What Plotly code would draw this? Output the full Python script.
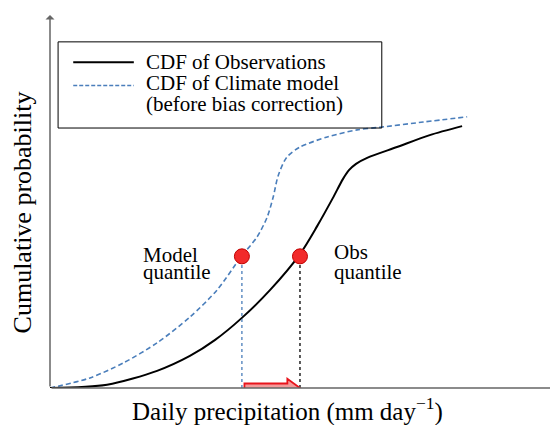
import plotly.graph_objects as go

# CDF curves (precipitation in arbitrary units, probability 0-1)
obs_x = [0, 1.13, 2.12, 2.77, 3.27, 3.80, 4.36, 4.95, 5.29, 5.60, 5.80, 5.92, 6.06, 6.28, 6.87, 7.52, 8.16]
obs_y = [0, 0.009, 0.046, 0.086, 0.129, 0.188, 0.263, 0.359, 0.434, 0.509, 0.560, 0.584, 0.601, 0.617, 0.646, 0.678, 0.702]

model_x = [0, 0.79, 1.45, 2.12, 2.77, 3.31, 3.78, 4.10, 4.30, 4.42, 4.52, 4.69, 4.95, 5.49, 6.08, 6.53, 7.39, 8.26]
model_y = [0, 0.027, 0.067, 0.121, 0.190, 0.263, 0.351, 0.405, 0.458, 0.512, 0.570, 0.619, 0.646, 0.673, 0.692, 0.699, 0.713, 0.727]

# quantile mapping points
quant_p = 0.353
model_q = 3.80
obs_q = 4.95

serif = "Liberation Serif"
blue = "#4a7ebb"

fig = go.Figure()

fig.add_trace(go.Scatter(x=model_x, y=model_y, mode="lines",
                         line=dict(color=blue, width=1.6, dash="5px,3px", shape="spline", smoothing=0.8),
                         cliponaxis=False, showlegend=False))
fig.add_trace(go.Scatter(x=obs_x, y=obs_y, mode="lines",
                         line=dict(color="black", width=2, shape="spline", smoothing=0.8),
                         cliponaxis=False, showlegend=False))

# dotted drop lines from the quantile points to the x axis
fig.add_trace(go.Scatter(x=[model_q, model_q], y=[0, quant_p], mode="lines",
                         line=dict(color=blue, width=1.3, dash="dot"), showlegend=False))
fig.add_trace(go.Scatter(x=[obs_q, obs_q], y=[0, quant_p], mode="lines",
                         line=dict(color="black", width=1.3, dash="dot"), showlegend=False))

fig.add_trace(go.Scatter(x=[model_q, obs_q], y=[quant_p, quant_p], mode="markers",
                         marker=dict(size=15, color="#f22a2a", line=dict(color="#c00000", width=1)),
                         showlegend=False))

# block arrow model quantile -> obs quantile
shaft_h = 0.012
head_h = 0.025
x0 = model_q + 0.05
x1 = obs_q - 0.25
arrow_path = (f"M {x0},{shaft_h} L {x1},{shaft_h} L {x1},{head_h} L {obs_q},0 "
              f"L {x1},{-head_h} L {x1},{-shaft_h} L {x0},{-shaft_h} Z")

shapes = [
    dict(type="path", path=arrow_path, xref="x", yref="y",
         fillcolor="#f49a9a", line=dict(color="#e8141c", width=1.8)),
    # legend box
    dict(type="rect", xref="x", yref="y", x0=0.16, x1=6.57, y0=0.697, y1=0.928,
         line=dict(color="black", width=1)),
    dict(type="line", xref="x", yref="y", x0=0.46, x1=1.66, y0=0.873, y1=0.873,
         line=dict(color="black", width=2)),
    dict(type="line", xref="x", yref="y", x0=0.46, x1=1.66, y0=0.811, y1=0.811,
         line=dict(color=blue, width=1.5, dash="4px,2px")),
]

label_font = dict(family=serif, size=21, color="black")

annotations = [
    # axis arrows
    dict(x=10, y=0, ax=0, ay=0, xref="x", yref="y", axref="x", ayref="y", text="",
         showarrow=True, arrowhead=1, arrowsize=1, arrowwidth=1.5, arrowcolor="#666"),
    dict(x=0, y=1, ax=0, ay=0, xref="x", yref="y", axref="x", ayref="y", text="",
         showarrow=True, arrowhead=1, arrowsize=1, arrowwidth=1.5, arrowcolor="#666"),
    # legend text
    dict(x=1.86, y=0.873, xref="x", yref="y", text="CDF of Observations", showarrow=False,
         xanchor="left", yanchor="middle", font=label_font),
    dict(x=1.86, y=0.817, xref="x", yref="y", text="CDF of Climate model", showarrow=False,
         xanchor="left", yanchor="middle", font=label_font),
    dict(x=1.86, y=0.761, xref="x", yref="y", text="(before bias correction)", showarrow=False,
         xanchor="left", yanchor="middle", font=label_font),
    # quantile labels
    dict(x=1.80, y=0.357, xref="x", yref="y", text="Model", showarrow=False,
         xanchor="left", yanchor="middle", font=label_font),
    dict(x=1.80, y=0.310, xref="x", yref="y", text="quantile", showarrow=False,
         xanchor="left", yanchor="middle", font=label_font),
    dict(x=5.58, y=0.364, xref="x", yref="y", text="Obs", showarrow=False,
         xanchor="left", yanchor="middle", font=label_font),
    dict(x=5.58, y=0.310, xref="x", yref="y", text="quantile", showarrow=False,
         xanchor="left", yanchor="middle", font=label_font),
    # axis titles
    dict(x=-0.054, y=0.470, xref="paper", yref="paper", text="Cumulative probability",
         showarrow=False, textangle=-90, xanchor="center", yanchor="middle",
         font=dict(family=serif, size=26, color="black")),
    dict(x=0.47, y=-0.058, xref="paper", yref="paper",
         text="Daily precipitation (mm day<sup>−1</sup>)",
         showarrow=False, xanchor="center", yanchor="middle",
         font=dict(family=serif, size=25, color="black")),
]

# page body has an 8px margin, so the figure is drawn 8px smaller
fig.update_layout(
    width=550, height=417,
    margin=dict(l=42, r=3, t=7, b=37),
    paper_bgcolor="white", plot_bgcolor="white",
    xaxis=dict(range=[0, 10], visible=False, fixedrange=True),
    yaxis=dict(range=[0, 1], visible=False, fixedrange=True),
    shapes=shapes,
    annotations=annotations,
    showlegend=False,
)

fig.write_html("out.html")
